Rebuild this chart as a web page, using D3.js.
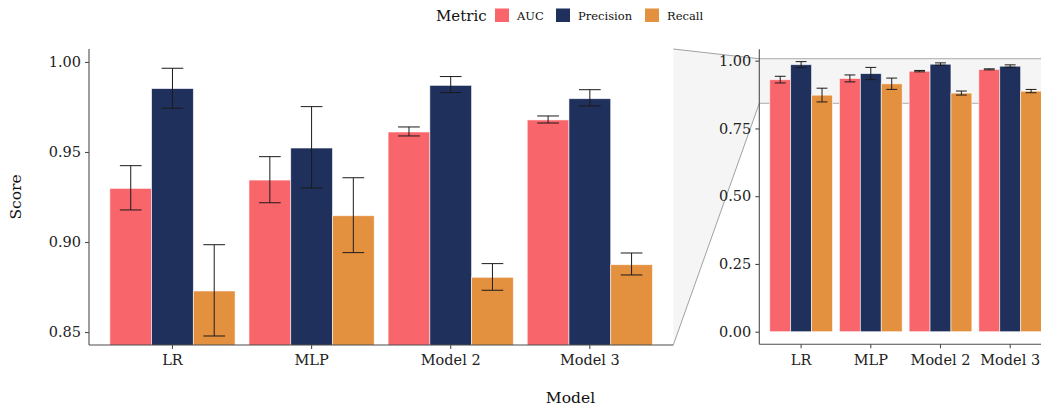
<!DOCTYPE html>
<html>
<head>
<meta charset="utf-8">
<script src="https://cdn.jsdelivr.net/npm/d3@7"></script>
<style>
  html, body { margin: 0; padding: 0; background: #fff; overflow: hidden; }
  svg { display: block; font-family: "DejaVu Serif", "Liberation Serif", serif; }
</style>
</head>
<body>
<svg id="chart" width="1041" height="409"></svg>
<script>
// Model comparison: mean score with error bars per metric
const models = ["LR", "MLP", "Model 2", "Model 3"];
const metrics = ["AUC", "Precision", "Recall"];
const colors = ["#F8656A", "#20305C", "#E4913F"];

// mean values per metric (order follows models)
const aucMean       = [0.9298, 0.9344, 0.9611, 0.9678];
const precisionMean = [0.9852, 0.9522, 0.9870, 0.9796];
const recallMean    = [0.8728, 0.9146, 0.8804, 0.8874];

// error bar bounds
const aucLow        = [0.9178, 0.9218, 0.9589, 0.9661];
const aucHigh       = [0.9424, 0.9474, 0.9639, 0.9700];
const precisionLow  = [0.9743, 0.9300, 0.9830, 0.9756];
const precisionHigh = [0.9965, 0.9752, 0.9919, 0.9846];
const recallLow     = [0.8478, 0.8941, 0.8732, 0.8817];
const recallHigh    = [0.8985, 0.9357, 0.8880, 0.8939];

const leftTicks  = [0.85, 0.90, 0.95, 1.00];
const rightTicks = [0.00, 0.25, 0.50, 0.75, 1.00];

const means = [aucMean, precisionMean, recallMean];
const lows  = [aucLow, precisionLow, recallLow];
const highs = [aucHigh, precisionHigh, recallHigh];

const rows = [];
models.forEach((m, i) => {
  metrics.forEach((k, j) => {
    rows.push({ model: m, metric: k, value: means[j][i], lo: lows[j][i], hi: highs[j][i] });
  });
});

const svg = d3.select("#chart");
const color = d3.scaleOrdinal().domain(metrics).range(colors);

// zoomed window shown in the left panel
const zoomLo = 0.8428, zoomHi = 1.0072;

const left  = { x0: 89,    x1: 673.3, y0: 49,   y1: 345,   domain: [zoomLo, zoomHi], ticks: leftTicks,  fmt: d3.format(".2f") };
const right = { x0: 759.3, x1: 1052,  y0: 49.3, y1: 344.3, domain: [-0.0465, 1.042], ticks: rightTicks, fmt: d3.format(".2f") };

[left, right].forEach(p => {
  p.x = d3.scaleBand().domain(models).range([p.x0, p.x1]).paddingInner(0).paddingOuter(0.1);
  p.y = d3.scaleLinear().domain(p.domain).range([p.y1, p.y0]);
  p.sub = d3.scaleBand().domain(metrics).range([0, p.x.bandwidth() * 0.9]).padding(0);
});

// connector between the two panels
const connector = svg.append("g");
connector.append("polygon")
  .attr("points", [
    [left.x1, left.y0],
    [right.x0, right.y(zoomHi)],
    [right.x0, right.y(zoomLo)],
    [left.x1, left.y1]
  ].map(p => p.join(",")).join(" "))
  .attr("fill", "#f5f5f5")
  .attr("stroke", "none");
connector.append("line")
  .attr("x1", left.x1).attr("y1", left.y0).attr("x2", right.x0).attr("y2", right.y(zoomHi))
  .attr("stroke", "#8a8a8a").attr("stroke-width", 0.8);
connector.append("line")
  .attr("x1", left.x1).attr("y1", left.y1).attr("x2", right.x0).attr("y2", right.y(zoomLo))
  .attr("stroke", "#8a8a8a").attr("stroke-width", 0.8);

// highlighted zoom range in the full-range panel
svg.append("rect")
  .attr("x", right.x0).attr("width", right.x1 - right.x0)
  .attr("y", right.y(zoomHi)).attr("height", right.y(zoomLo) - right.y(zoomHi))
  .attr("fill", "#f5f5f5");
svg.append("line")
  .attr("x1", right.x0).attr("x2", right.x1)
  .attr("y1", right.y(zoomHi)).attr("y2", right.y(zoomHi))
  .attr("stroke", "#a0a0a0").attr("stroke-width", 0.9);
svg.append("line")
  .attr("x1", right.x0).attr("x2", right.x1)
  .attr("y1", right.y(zoomLo)).attr("y2", right.y(zoomLo))
  .attr("stroke", "#a0a0a0").attr("stroke-width", 0.9);

function drawPanel(p, clipId) {
  const g = svg.append("g");
  svg.append("clipPath").attr("id", clipId)
    .append("rect").attr("x", p.x0).attr("y", p.y0).attr("width", p.x1 - p.x0).attr("height", p.y1 - p.y0);

  const marks = g.append("g").attr("clip-path", `url(#${clipId})`);
  const base = Math.max(p.domain[0], 0) === 0 ? 0 : p.domain[0] - 1;
  const groupOffset = p.x.bandwidth() * 0.05;

  marks.selectAll("rect.bar").data(rows).join("rect")
    .attr("class", "bar")
    .attr("x", d => p.x(d.model) + groupOffset + p.sub(d.metric))
    .attr("width", p.sub.bandwidth())
    .attr("y", d => p.y(d.value))
    .attr("height", d => p.y(base) - p.y(d.value))
    .attr("fill", d => color(d.metric))
    .attr("stroke", "#ffffff")
    .attr("stroke-opacity", 0.7)
    .attr("stroke-width", 0.8);

  const capHalf = p.sub.bandwidth() * 0.26;
  const eb = marks.selectAll("g.err").data(rows).join("g").attr("class", "err")
    .attr("transform", d => `translate(${p.x(d.model) + groupOffset + p.sub(d.metric) + p.sub.bandwidth() / 2},0)`);
  eb.append("line").attr("x1", 0).attr("x2", 0)
    .attr("y1", d => p.y(d.hi)).attr("y2", d => p.y(d.lo));
  eb.append("line").attr("x1", -capHalf).attr("x2", capHalf)
    .attr("y1", d => p.y(d.hi)).attr("y2", d => p.y(d.hi));
  eb.append("line").attr("x1", -capHalf).attr("x2", capHalf)
    .attr("y1", d => p.y(d.lo)).attr("y2", d => p.y(d.lo));
  eb.selectAll("line").attr("stroke", "#1b1b1b").attr("stroke-width", 1);

  // axes
  const yAxis = g.append("g").attr("transform", `translate(${p.x0},0)`)
    .call(d3.axisLeft(p.y).tickValues(p.ticks).tickFormat(p.fmt).tickSize(4).tickPadding(4));
  yAxis.select(".domain").attr("d", `M0,${p.y0}V${p.y1}`);
  const xAxis = g.append("g").attr("transform", `translate(0,${p.y1})`)
    .call(d3.axisBottom(p.x).tickSize(4).tickPadding(6));
  xAxis.select(".domain").attr("d", `M${p.x0},0H${p.x1}`);

  [yAxis, xAxis].forEach(a => {
    a.select(".domain").attr("stroke", "#4d4d4d").attr("stroke-width", 1.1);
    a.selectAll(".tick line").attr("stroke", "#4d4d4d").attr("stroke-width", 1.1);
    a.selectAll(".tick text").attr("fill", "#222").style("font-size", "14.5px")
      .style("font-family", "'DejaVu Serif', serif");
  });
}

drawPanel(left, "clip-left");
drawPanel(right, "clip-right");

// axis titles
svg.append("text")
  .attr("x", (left.x0 + right.x1) / 2).attr("y", 403)
  .attr("text-anchor", "middle").attr("fill", "#111")
  .style("font-size", "15.5px").text("Model");
svg.append("text")
  .attr("transform", `translate(21,${(left.y0 + left.y1) / 2}) rotate(-90)`)
  .attr("text-anchor", "middle").attr("fill", "#111")
  .style("font-size", "15.5px").text("Score");

// legend
const legend = svg.append("g");
legend.append("text").attr("x", 436).attr("y", 20.5).attr("fill", "#111")
  .style("font-size", "15px").text("Metric");
const legendX = [495, 556, 645];
metrics.forEach((k, i) => {
  legend.append("rect").attr("x", legendX[i]).attr("y", 8.5).attr("width", 14).attr("height", 13.5)
    .attr("fill", color(k));
  legend.append("text").attr("x", legendX[i] + 22).attr("y", 20).attr("fill", "#111")
    .style("font-size", "11.5px").text(k);
});
</script>
</body>
</html>
